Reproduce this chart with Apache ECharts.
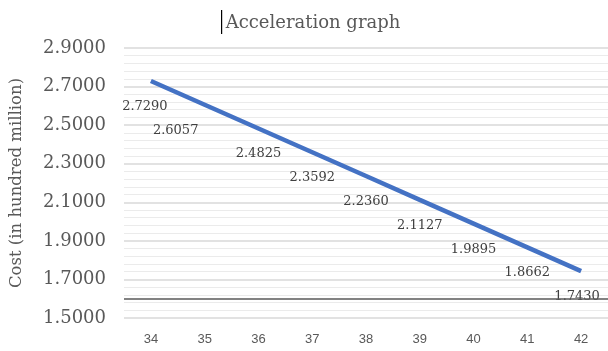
<!DOCTYPE html>
<html><head><meta charset="utf-8">
<script src="https://cdn.jsdelivr.net/npm/echarts@6/dist/echarts.min.js"></script>
<style>html,body{margin:0;padding:0;background:#fff}#c{width:608px;height:351px}</style>
</head><body><div id="c"></div>
<script>
const categories = ['34','35','36','37','38','39','40','41','42'];
const costValues = [2.7290, 2.6057, 2.4825, 2.3592, 2.2360, 2.1127, 1.9895, 1.8662, 1.7430];
const labelShiftX = [-6, -29, 0, 0, 0, 0, 0, 0, -4];
const axisLineValue = 1.6;
const titleText = 'Acceleration graph';
const yName = 'Cost (in hundred million)';

const chart = echarts.init(document.getElementById('c'));
const serif = 'DejaVu Serif';
chart.setOption({
  animation: false,
  title: {
    text: titleText, left: 308, top: 9, textAlign: 'center',
    textStyle: {fontFamily: serif, fontSize: 18, fontWeight: 'normal', color: '#595959'}
  },
  graphic: [{type: 'rect', left: 221, top: 10, shape: {width: 1.2, height: 24}, style: {fill: '#000'}}],
  grid: {left: 121, right: 0, top: 48, bottom: 33},
  xAxis: {
    type: 'category', data: categories, boundaryGap: true,
    axisLine: {show: false}, axisTick: {show: false},
    axisLabel: {color: '#595959', fontFamily: 'Liberation Sans', fontSize: 13, margin: 15}
  },
  yAxis: {
    type: 'value', min: 1.5, max: 2.9, interval: 0.2,
    name: yName, nameLocation: 'middle', nameGap: 99,
    nameTextStyle: {fontFamily: serif, fontSize: 16.5, color: '#595959'},
    axisLine: {show: false}, axisTick: {show: false},
    axisLabel: {color: '#595959', fontFamily: serif, fontSize: 18, margin: 18,
      formatter: v => v.toFixed(4)},
    splitLine: {lineStyle: {color: '#d9d9d9', width: 1.5}},
    minorTick: {show: false, splitNumber: 5},
    minorSplitLine: {show: true, lineStyle: {color: '#ebebeb', width: 1}}
  },
  series: [{
    type: 'line',
    data: costValues.map((v, i) => ({value: v, label: {offset: [labelShiftX[i], 0]}})),
    symbol: 'circle', symbolSize: 0.1, showSymbol: true,
    lineStyle: {color: '#4472C4', width: 4.5},
    itemStyle: {color: '#4472C4'},
    label: {show: true, position: 'bottom', distance: 19, color: '#404040',
      fontFamily: serif, fontSize: 13, formatter: p => p.value.toFixed(4)},
    markLine: {
      silent: true, symbol: 'none', label: {show: false},
      lineStyle: {color: '#595959', width: 1.5, type: 'solid'},
      data: [{yAxis: axisLineValue}]
    },
    z: 3
  }]
});
</script></body></html>
